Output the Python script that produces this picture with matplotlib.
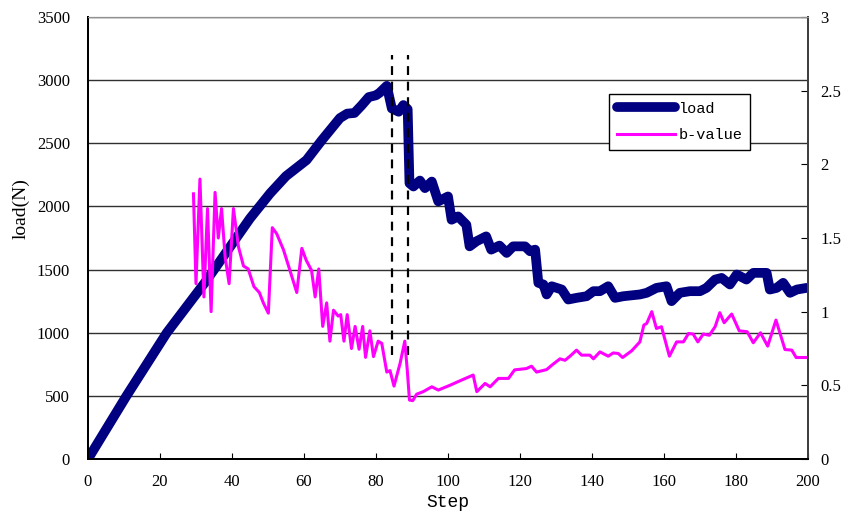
import matplotlib
matplotlib.use('Agg')
import matplotlib.pyplot as plt
from matplotlib.ticker import FuncFormatter

# load curve (N) against step
load_step = [0, 10.7, 21.9, 33, 45, 50.6, 55, 60.7, 65, 70, 72, 74, 76, 78, 80, 81, 83,
             84.4, 86.3, 87.6, 88.8, 89.3, 90.4, 92.2, 93.6, 95.5, 97.3, 100, 101,
             102.8, 105.1, 106, 107.9, 110.6, 112, 114.3, 116.3, 118.1, 121.4,
             122.8, 124.2, 125.1, 126.5, 127.4, 128.8, 131.6, 133.4, 135.7, 138.5,
             140.4, 142.2, 144.5, 146.4, 148.7, 153.3, 155.2, 157.9, 160.7, 162.1,
             164.4, 167.2, 170, 171.8, 174.2, 176, 178.3, 180.2, 182.9, 184.8,
             188.5, 189.4, 191.3, 193.1, 195, 196.9, 199.6]
load_val = [0, 500, 1000, 1417, 1905, 2104, 2240, 2367, 2526, 2700, 2735, 2740, 2800,
            2866, 2880, 2900, 2955, 2776, 2750, 2803, 2770, 2184, 2158, 2205, 2145,
            2197, 2040, 2079, 1895, 1921, 1855, 1684, 1724, 1763, 1658, 1690, 1632,
            1684, 1684, 1645, 1658, 1395, 1382, 1303, 1368, 1342, 1263, 1276, 1289,
            1329, 1329, 1368, 1276, 1289, 1303, 1316, 1355, 1368, 1250, 1316, 1329,
            1329, 1355, 1421, 1434, 1382, 1461, 1421, 1474, 1474, 1342, 1355, 1395,
            1316, 1342, 1355]

# b-value against step (right axis)
b_step = [29.3, 30, 31.1, 32.2, 33.2, 34.2, 35.3, 36.2, 37.1, 38.1, 39.2, 40.4,
          41.8, 43.2, 44.5, 46.1, 47.6, 48.7, 50.1, 51.2, 52.4, 54.3, 56.1, 58,
          59.4, 60.6, 62.1, 63.1, 64.1, 65.2, 66.3, 67.2, 68.2, 69.5, 70.2, 71.1,
          72, 73.2, 74.2, 75.3, 76.3, 77.1, 78.3, 79.3, 80.6, 81.6, 83, 83.9, 85,
          86.7, 88, 88.7, 89.3, 90.2, 91.3, 93.1, 95.5, 97.3, 100.5, 103.8, 107,
          108, 110.3, 111.7, 114, 116.8, 118.5, 121.8, 123.2, 124.6, 127.4, 128.8,
          131.1, 132.5, 133.9, 135.7, 137.1, 139.4, 140.4, 142.2, 144.5, 145.9,
          147.3, 148.5, 151, 153.3, 154.4, 155.2, 156.6, 157.9, 159.3, 161.5,
          163.5, 165.4, 166.8, 168.1, 169.4, 170.9, 172.6, 174.2, 175.5, 176.7,
          178.8, 180.9, 183.1, 184.8, 186.8, 188.8, 191.1, 193.6, 195.5, 196.7,
          199.4]
b_val = [1.80, 1.19, 1.90, 1.10, 1.70, 1.00, 1.81, 1.50, 1.70, 1.37, 1.19, 1.70,
         1.44, 1.31, 1.29, 1.17, 1.13, 1.06, 0.99, 1.57, 1.53, 1.42, 1.28, 1.13,
         1.43, 1.35, 1.28, 1.10, 1.29, 0.90, 1.06, 0.80, 1.01, 0.97, 0.98, 0.80,
         0.98, 0.75, 0.90, 0.745, 0.90, 0.69, 0.87, 0.695, 0.80, 0.785, 0.59, 0.60,
         0.495, 0.65, 0.80, 0.60, 0.40, 0.396, 0.44, 0.457, 0.49, 0.468, 0.50,
         0.536, 0.57, 0.457, 0.513, 0.49, 0.547, 0.547, 0.605, 0.614, 0.63, 0.59,
         0.607, 0.636, 0.68, 0.67, 0.698, 0.739, 0.705, 0.705, 0.68, 0.727, 0.698,
         0.72, 0.716, 0.689, 0.734, 0.795, 0.909, 0.92, 1.0, 0.886, 0.898, 0.698,
         0.795, 0.795, 0.852, 0.848, 0.795, 0.848, 0.84, 0.898, 0.993, 0.925,
         0.984, 0.87, 0.864, 0.789, 0.857, 0.766, 0.943, 0.743, 0.739, 0.689,
         0.689]

# dashed markers around the peak
mark_steps = [84.4, 89.0]
mark_range = [823, 3199]

num_font = 'Liberation Serif'
txt_font = 'Liberation Mono'

fig = plt.figure(figsize=(8.5, 5.19), dpi=100)
ax = fig.add_axes([0.1035, 0.1156, 0.8471, 0.8516])
ax2 = ax.twinx()

ax.set_xlim(0, 200)
ax.set_ylim(0, 3500)
ax2.set_ylim(0, 3)

ax.set_yticks(range(0, 3501, 500))
ax.set_xticks(range(0, 201, 20))
ax2.set_yticks([0, 0.5, 1, 1.5, 2, 2.5, 3])
ax2.yaxis.set_major_formatter(FuncFormatter(lambda v, p: f'{v:g}'))

ax.grid(axis='y', color='#303030', linewidth=1.0)
ax.set_axisbelow(True)

ax.plot(load_step, load_val, color='#000080', linewidth=7,
        solid_capstyle='round', solid_joinstyle='round', label='load', zorder=3)
for s in mark_steps:
    ax.plot([s, s], mark_range, color='black', linestyle=(0, (4, 3)),
            linewidth=1.6, zorder=4)

ax2.plot(b_step, b_val, color='#ff00ff', linewidth=2.2,
         solid_joinstyle='round', label='b-value')

for sp in ['left', 'bottom', 'right']:
    ax.spines[sp].set_linewidth(1.4)
    ax2.spines[sp].set_linewidth(1.4)
ax.spines['top'].set_color('#909090')
ax2.spines['top'].set_color('#909090')
ax.spines['right'].set_color('#404040')
ax2.spines['right'].set_color('#404040')

ax.tick_params(axis='y', length=0, pad=13)
ax.tick_params(axis='x', direction='in', length=4, pad=11)
ax2.tick_params(axis='y', direction='in', length=5, pad=9)

for lab in ax.get_xticklabels() + ax.get_yticklabels() + ax2.get_yticklabels():
    lab.set_fontfamily(num_font)
    lab.set_fontsize(12)

ax.set_xlabel('Step', fontfamily=txt_font, fontsize=13, labelpad=3)
ax.set_ylabel('load(N)', fontfamily=num_font, fontsize=14)
ax.yaxis.set_label_coords(-0.081, 0.566)

h1, l1 = ax.get_legend_handles_labels()
h2, l2 = ax2.get_legend_handles_labels()
leg = ax2.legend(h1 + h2, l1 + l2, loc='upper left',
                 bbox_to_anchor=(0.7236, 0.8258), frameon=True, fancybox=False,
                 edgecolor='black', framealpha=1, handlelength=3.8,
                 handletextpad=0.25, borderpad=0.5, labelspacing=0.8,
                 borderaxespad=0, prop={'family': txt_font, 'size': 11})
leg.get_frame().set_linewidth(1.0)

fig.savefig('out.png', dpi=100)
